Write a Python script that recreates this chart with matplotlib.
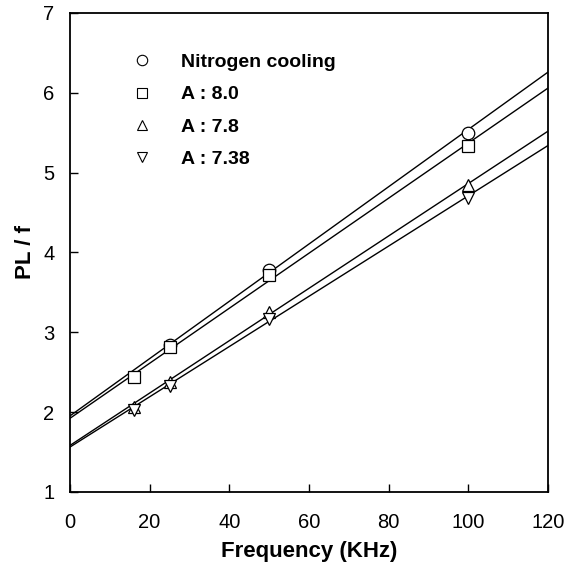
import matplotlib
matplotlib.use("Agg")
from matplotlib import pyplot as plt

plt.rcParams['font.family'] = ['Liberation Sans', 'DejaVu Sans']

# measured points
freq_n = [25, 50, 100]
pl_n = [2.84, 3.78, 5.50]
freq_a80 = [16, 25, 50, 100]
pl_a80 = [2.44, 2.82, 3.72, 5.33]
freq_a78 = [16, 25, 50, 100]
pl_a78 = [2.06, 2.38, 3.25, 4.85]
freq_a738 = [16, 25, 50, 100]
pl_a738 = [2.03, 2.33, 3.16, 4.68]

# fitted lines, value at f=0 and f=120
fit_x = [0, 120]
fit_n = [1.95, 6.26]
fit_a80 = [1.92, 6.06]
fit_a78 = [1.58, 5.52]
fit_a738 = [1.56, 5.34]

labels = ["Nitrogen cooling", "A : 8.0", "A : 7.8", "A : 7.38"]

fig = plt.figure(figsize=(5.68, 5.64), dpi=100)
ax = fig.add_axes([0.123, 0.128, 0.842, 0.849])

for yy in [fit_n, fit_a80, fit_a78, fit_a738]:
    ax.plot(fit_x, yy, color="black", lw=1.0, zorder=1)

mk = dict(ls="none", mfc="white", mec="black", mew=0.9, zorder=3)
ax.plot(freq_n, pl_n, marker="o", ms=9, label=labels[0], **mk)
ax.plot(freq_a80, pl_a80, marker="s", ms=8, label=labels[1], **mk)
ax.plot(freq_a78, pl_a78, marker="^", ms=9, label=labels[2], **mk)
ax.plot(freq_a738, pl_a738, marker="v", ms=9, label=labels[3], **mk)

ax.set_xlim(0, 120)
ax.set_ylim(1, 7)
ax.set_xticks([0, 20, 40, 60, 80, 100, 120])
ax.set_yticks([1, 2, 3, 4, 5, 6, 7])
ax.tick_params(direction="in", length=6, width=1, labelsize=14.5)
ax.tick_params(axis="x", pad=15)
ax.tick_params(axis="y", pad=11)
for s in ax.spines.values():
    s.set_linewidth(1.3)

ax.set_xlabel("Frequency (KHz)", fontsize=16, fontweight="bold", labelpad=7)
ax.set_ylabel("PL / f", fontsize=16, fontweight="bold", labelpad=5)

leg = ax.legend(loc="upper left", bbox_to_anchor=(0.115, 0.932), frameon=False,
                prop={"weight": "bold", "size": 14}, handlelength=1.0,
                handletextpad=1.5, labelspacing=0.76, borderaxespad=0)
for h in leg.legend_handles:
    h.set_markersize(7.5)
    h.set_markeredgewidth(0.8)

fig.savefig("out.png", dpi=100)
